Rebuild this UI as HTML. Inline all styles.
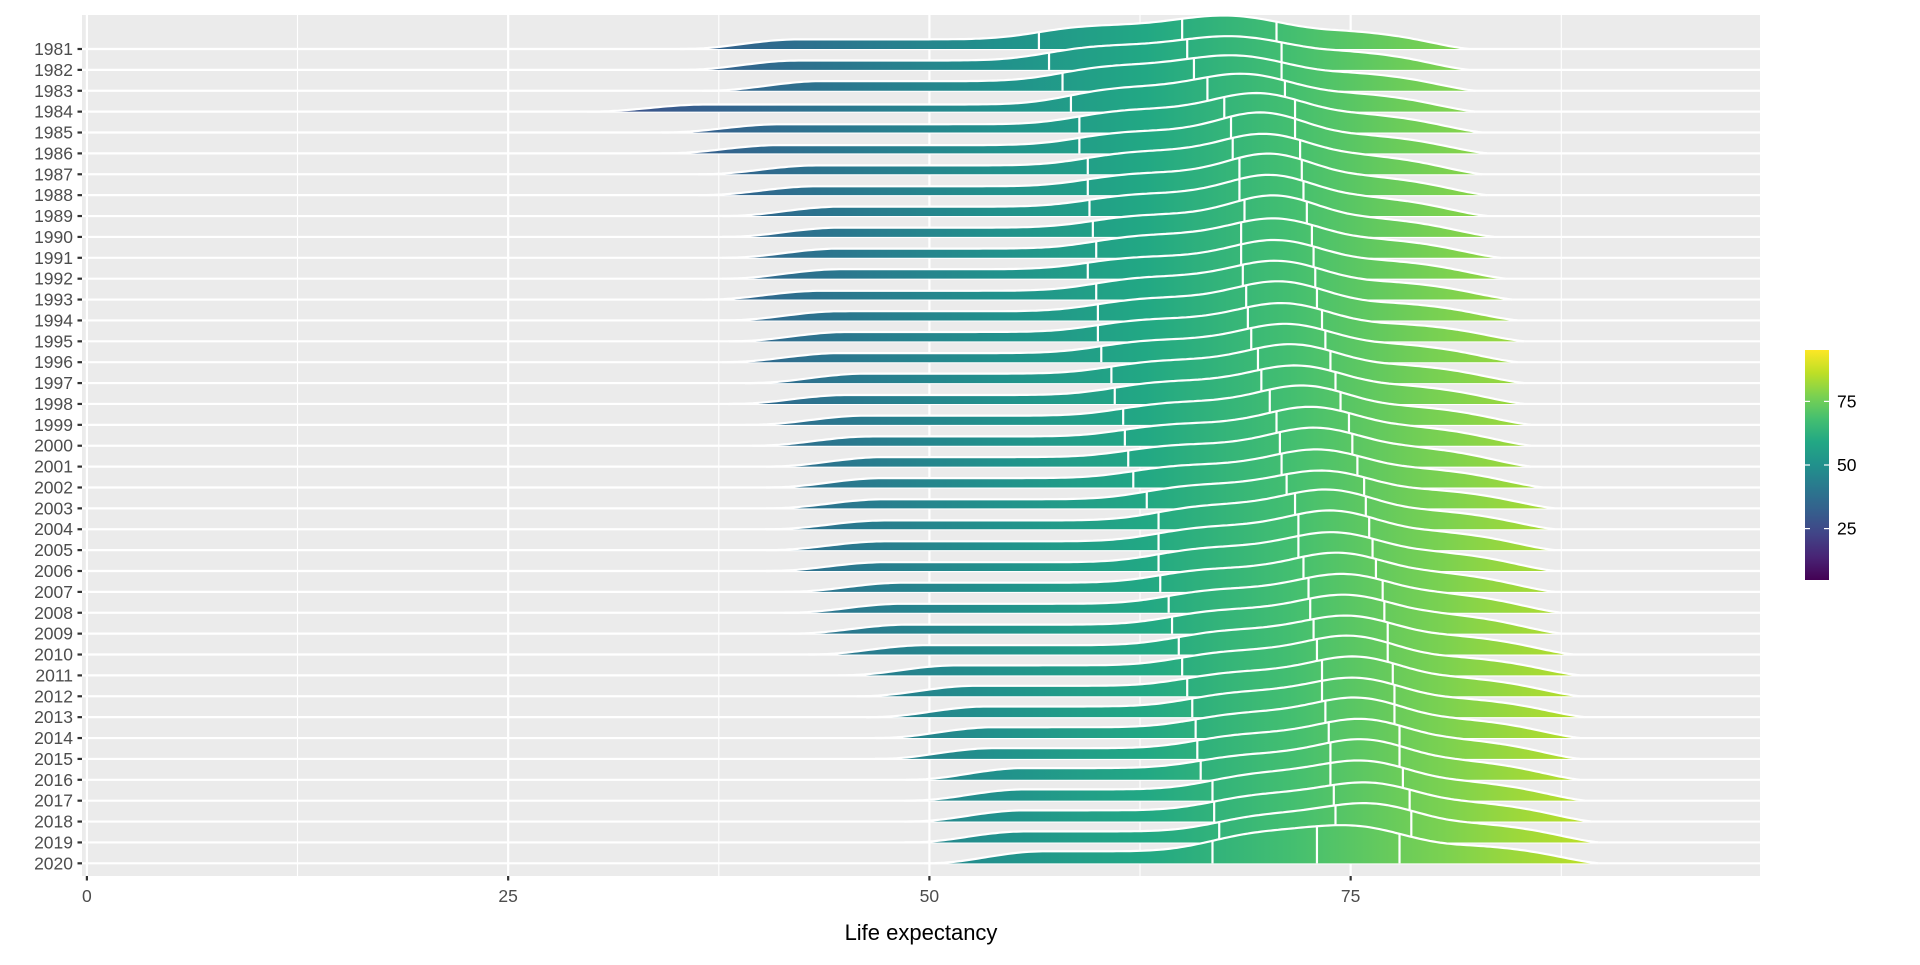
<!DOCTYPE html>
<html><head><meta charset="utf-8"><style>
body{margin:0;background:#fff;}
svg text{font-family:"Liberation Sans",Arial,sans-serif;}
</style></head><body>
<svg id="chart" width="1920" height="960" xmlns="http://www.w3.org/2000/svg">
<defs>
<linearGradient id="vir" gradientUnits="userSpaceOnUse" x1="0" x2="1" y1="0" y2="0"></linearGradient>
<linearGradient id="virv" x1="0" x2="0" y1="1" y2="0"></linearGradient>
</defs>
<rect x="82" y="15" width="1678" height="861" fill="#EBEBEB"/>
<g id="grid"></g>
<g id="ridges"></g>
<g id="axes"></g>
<text x="921" y="940" font-size="22" text-anchor="middle" fill="#000">Life expectancy</text>
<g id="legend"></g>
</svg>
<script>
const years=[1981,1982,1983,1984,1985,1986,1987,1988,1989,1990,1991,1992,1993,1994,1995,1996,1997,1998,1999,2000,2001,2002,2003,2004,2005,2006,2007,2008,2009,2010,2011,2012,2013,2014,2015,2016,2017,2018,2019,2020];
const minVals=[35.2,35.2,36.6,29.7,34.1,34.1,36.3,36.3,37.7,37.7,37.7,37.7,36.6,37.7,38.1,37.7,39.2,38.1,39.2,39.5,40.3,40.3,40.3,40.3,40.3,40.3,41.4,41.4,41.7,42.8,44.6,45.7,46.4,46.8,46.8,48.6,48.6,48.6,48.6,49.7];
const q1Vals=[56.5,57.1,57.9,58.4,58.9,58.9,59.4,59.4,59.5,59.7,59.9,59.4,59.9,60.0,60.0,60.2,60.8,61.0,61.5,61.6,61.8,62.1,62.9,63.6,63.6,63.6,63.7,64.2,64.4,64.8,65.0,65.3,65.6,65.8,65.9,66.1,66.8,66.9,67.2,66.8];
const medVals=[65.0,65.3,65.7,66.5,67.5,67.9,68.0,68.4,68.4,68.7,68.5,68.5,68.6,68.8,68.9,69.1,69.5,69.7,70.2,70.6,70.8,70.9,71.2,71.7,71.9,71.9,72.2,72.5,72.6,72.8,73.0,73.3,73.3,73.5,73.7,73.8,73.8,74.0,74.1,73.0];
const q3Vals=[70.6,70.9,70.9,71.1,71.7,71.7,72.0,72.1,72.2,72.4,72.7,72.8,72.9,73.0,73.3,73.5,73.8,74.1,74.4,74.9,75.1,75.4,75.8,75.9,76.1,76.3,76.5,76.9,77.0,77.2,77.2,77.5,77.6,77.6,77.9,77.9,78.1,78.5,78.6,77.9];
const maxVals=[82.0,82.0,82.4,82.4,82.8,83.1,82.8,83.1,83.1,83.5,83.9,84.2,84.6,84.9,85.3,84.9,85.3,85.3,85.7,85.7,85.7,86.4,87.1,87.1,87.1,87.1,87.1,87.5,87.5,88.2,88.6,88.6,88.9,88.6,88.6,88.6,88.9,89.3,89.7,89.7];
const xTicks=[0,25,50,75];
const xMinor=[12.5,37.5,62.5,87.5];
const legendTicks=[25,50,75];
const colorLim=[4.8,95.2];
const fillLim=[10,98];

const NS="http://www.w3.org/2000/svg";
const X0=82,X1=1760,Y0=15,Y1=876;
const xs=v=>86.9+v*16.85;
const ys=i=>49+i*20.88;
const H=820, BW=2.2, TL=7, TR=8;
function el(tag,attrs,parent){const e=document.createElementNS(NS,tag);for(const k in attrs)e.setAttribute(k,attrs[k]);parent.appendChild(e);return e;}
const vir=['#440154','#482475','#414487','#355f8d','#2a788e','#21918c','#22a884','#44bf70','#7ad151','#bddf26','#fde725'];
const g1=document.getElementById('vir');g1.setAttribute('x1',xs(fillLim[0]));g1.setAttribute('x2',xs(fillLim[1]));
const g2=document.getElementById('virv');
vir.forEach((c,i)=>{el('stop',{offset:i/10,'stop-color':c},g1);el('stop',{offset:i/10,'stop-color':c},g2);});

const grid=document.getElementById('grid');
xMinor.forEach(v=>{const l=el('line',{x1:xs(v),x2:xs(v),y1:Y0,y2:Y1,stroke:'#fff','stroke-width':1.1},grid);

});
xTicks.forEach(v=>{const l=el('line',{x1:xs(v),x2:xs(v),y1:Y0,y2:Y1,stroke:'#fff','stroke-width':2.2},grid);

});
years.forEach((y,i)=>{const l=el('line',{x1:X0,x2:X1,y1:ys(i),y2:ys(i),stroke:'#fff','stroke-width':2.2},grid);

});

function erf(x){const s=Math.sign(x);x=Math.abs(x);const t=1/(1+0.3275911*x);
  const y=1-(((((1.061405429*t-1.453152027)*t)+1.421413741)*t-0.284496736)*t+0.254829592)*t*Math.exp(-x*x);return s*y;}
const Phi=z=>0.5*(1+erf(z/Math.SQRT2));
const sm=t=>{t=Math.max(0,Math.min(1,t));return t*t*(3-2*t);};
function dens(q){
  const raw=x=>{let s=0;for(let k=0;k<4;k++){const a=q[k],b=q[k+1];s+=0.25/(b-a)*(Phi((x-a)/BW)-Phi((x-b)/BW));}return s;};
  return x=>raw(x)*sm((x-q[0])/TL)*Math.sqrt(sm((q[4]-x)/TR));
}
const ridges=document.getElementById('ridges');
years.forEach((yr,i)=>{
  const q=[minVals[i],q1Vals[i],medVals[i],q3Vals[i],maxVals[i]];
  const f=dens(q);
  const b=ys(i);
  const N=200;let pts='';
  for(let s=0;s<=N;s++){const v=q[0]+(q[4]-q[0])*s/N;pts+=` L${xs(v).toFixed(1)},${(b-f(v)*H).toFixed(1)}`;}
  const g=el('g',{},ridges);
  
  
  el('path',{d:`M${xs(q[0])},${b}`+pts+` L${xs(q[4])},${b} Z`,fill:'url(#vir)',stroke:'none'},g);
  [q[1],q[2],q[3]].forEach(v=>{const l=el('line',{x1:xs(v),x2:xs(v),y1:b,y2:b-f(v)*H,stroke:'#fff','stroke-width':2.2},g);
    
    });
  el('path',{d:`M${xs(q[0])},${b}`+pts,fill:'none',stroke:'#fff','stroke-width':2.2},g);
});

const axes=document.getElementById('axes');
years.forEach((yr,i)=>{
  const t=el('text',{x:73,y:ys(i)+6,'font-size':17.5,'text-anchor':'end',fill:'#4D4D4D'},axes);t.textContent=yr;
  
  
  el('line',{x1:77.5,x2:82,y1:ys(i),y2:ys(i),stroke:'#333','stroke-width':2.2},axes);
});
xTicks.forEach(v=>{
  el('line',{x1:xs(v),x2:xs(v),y1:876,y2:880.5,stroke:'#333','stroke-width':2.2},axes);
  const t=el('text',{x:xs(v),y:902,'font-size':17.5,'text-anchor':'middle',fill:'#4D4D4D'},axes);t.textContent=v;
  
  
});
const leg=document.getElementById('legend');
const LB=580,LT=350,lys=v=>LB-(v-colorLim[0])/(colorLim[1]-colorLim[0])*(LB-LT);
el('rect',{x:1805,y:LT,width:24,height:LB-LT,fill:'url(#virv)'},leg);
legendTicks.forEach(v=>{
  el('line',{x1:1805,x2:1810,y1:lys(v),y2:lys(v),stroke:'#fff','stroke-width':1.2},leg);
  el('line',{x1:1824,x2:1829,y1:lys(v),y2:lys(v),stroke:'#fff','stroke-width':1.2},leg);
  const t=el('text',{x:1837,y:lys(v)+6,'font-size':17.5,fill:'#000'},leg);t.textContent=v;
  
  
});
</script>
</body></html>
